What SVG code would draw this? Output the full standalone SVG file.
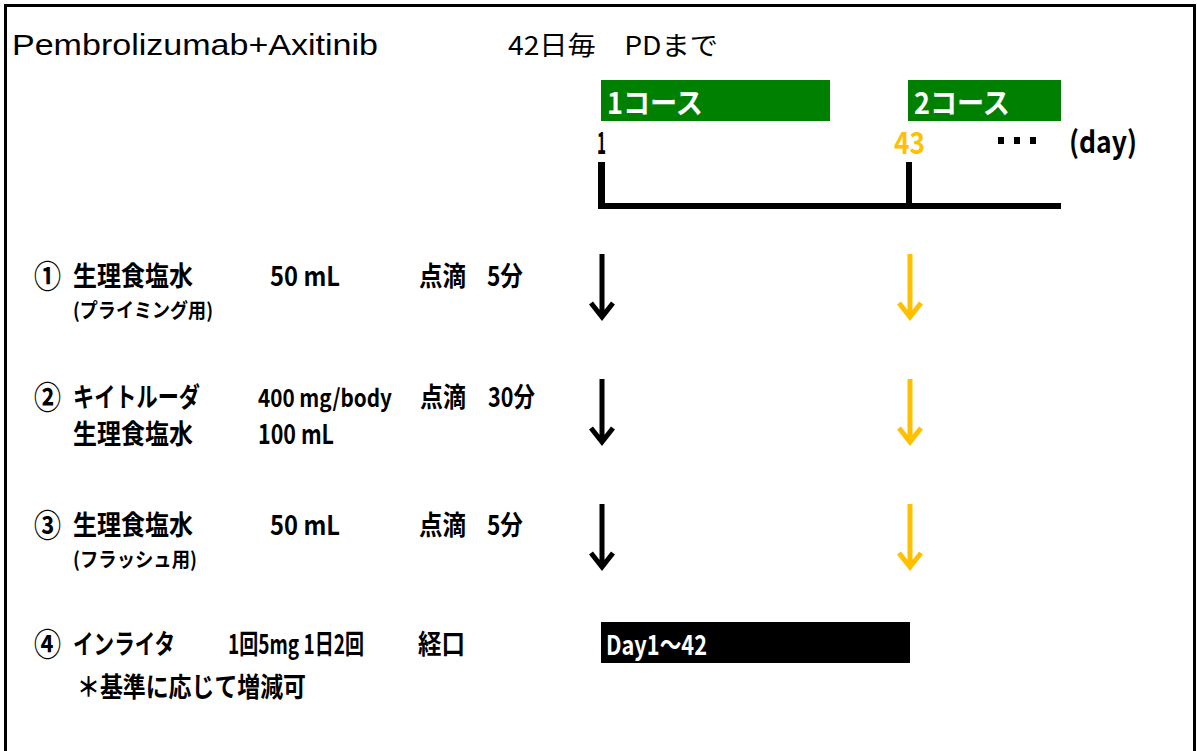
<svg xmlns="http://www.w3.org/2000/svg" xmlns:xlink="http://www.w3.org/1999/xlink" width="1197" height="751" viewBox="0 0 1197 751">
<style>
.t{font-family:"Noto Sans CJK JP","Noto Sans",sans-serif;font-weight:bold;fill:#000}
.r{font-weight:normal}
.m{font-size:27px}
.c{font-size:32px}
.s{font-size:20px}
.w{fill:#fff}
.y{fill:#FFC000}
.blk{stroke:#000}
.yel{stroke:#FFC000}
.arr{fill:none;stroke-width:5;stroke-linejoin:miter;stroke-miterlimit:10}
</style>
<defs>
<path id="arrow" d="M0,0 V64 M-11,49 L0,63 L11,49"/>
</defs>
<rect x="0" y="0" width="1197" height="751" fill="#fff"/>
<rect x="5.5" y="5.5" width="1189" height="800" fill="none" stroke="#000" stroke-width="3"/>

<g id="title">
<text x="12" y="55" font-family="Liberation Sans, Arial, sans-serif" font-size="30" textLength="366" lengthAdjust="spacingAndGlyphs">Pembrolizumab+Axitinib</text>
<text class="t r" x="508" y="55" font-size="26" textLength="210" lengthAdjust="spacingAndGlyphs">42日毎　PDまで</text>
</g>

<g id="course1">
<rect x="601" y="80" width="229" height="41" fill="#008000"/>
<text class="t w" x="607" y="114" font-size="29" textLength="96" lengthAdjust="spacingAndGlyphs">1コース</text>
</g>
<g id="course2">
<rect x="908" y="80" width="153" height="41" fill="#008000"/>
<text class="t w" x="914" y="114" font-size="29" textLength="96" lengthAdjust="spacingAndGlyphs">2コース</text>
</g>

<g id="timeline">
<text class="t" x="597" y="154" font-size="31" textLength="9" lengthAdjust="spacingAndGlyphs">1</text>
<text class="t y" x="894" y="154" font-size="31" textLength="31" lengthAdjust="spacingAndGlyphs">43</text>
<rect x="998" y="137" width="6" height="7"/>
<rect x="1014" y="137" width="6" height="7"/>
<rect x="1030" y="137" width="6" height="7"/>
<text class="t" x="1069" y="153" font-size="30" textLength="68" lengthAdjust="spacingAndGlyphs">(day)</text>
<rect x="598" y="162" width="7" height="47"/>
<rect x="906" y="162" width="6" height="44"/>
<rect x="598" y="203" width="463" height="6"/>
</g>

<g id="row1">
<text class="t c" x="34" y="288" textLength="27" lengthAdjust="spacingAndGlyphs">①</text>
<text class="t m" x="73" y="286" textLength="120" lengthAdjust="spacingAndGlyphs">生理食塩水</text>
<text class="t m" x="270" y="286" textLength="70" lengthAdjust="spacingAndGlyphs">50 mL</text>
<text class="t m" x="419" y="286" textLength="47" lengthAdjust="spacingAndGlyphs">点滴</text>
<text class="t m" x="487" y="286" textLength="36" lengthAdjust="spacingAndGlyphs">5分</text>
<text class="t s" x="73" y="318" textLength="140" lengthAdjust="spacingAndGlyphs">(プライミング用)</text>
</g>

<g id="row2">
<text class="t c" x="34" y="409" textLength="27" lengthAdjust="spacingAndGlyphs">②</text>
<text class="t m" x="73" y="407" textLength="127" lengthAdjust="spacingAndGlyphs">キイトルーダ</text>
<text class="t" x="258" y="407" font-size="24" textLength="134" lengthAdjust="spacingAndGlyphs">400 mg/body</text>
<text class="t m" x="420" y="407" textLength="46" lengthAdjust="spacingAndGlyphs">点滴</text>
<text class="t m" x="488" y="407" textLength="47" lengthAdjust="spacingAndGlyphs">30分</text>
<text class="t m" x="73" y="444" textLength="120" lengthAdjust="spacingAndGlyphs">生理食塩水</text>
<text class="t m" x="258" y="444" textLength="76" lengthAdjust="spacingAndGlyphs">100 mL</text>
</g>

<g id="row3">
<text class="t c" x="34" y="537" textLength="27" lengthAdjust="spacingAndGlyphs">③</text>
<text class="t m" x="73" y="535" textLength="120" lengthAdjust="spacingAndGlyphs">生理食塩水</text>
<text class="t m" x="270" y="535" textLength="70" lengthAdjust="spacingAndGlyphs">50 mL</text>
<text class="t m" x="419" y="535" textLength="47" lengthAdjust="spacingAndGlyphs">点滴</text>
<text class="t m" x="487" y="535" textLength="36" lengthAdjust="spacingAndGlyphs">5分</text>
<text class="t s" x="73" y="567" textLength="124" lengthAdjust="spacingAndGlyphs">(フラッシュ用)</text>
</g>

<g id="row4">
<text class="t c" x="34" y="656" textLength="27" lengthAdjust="spacingAndGlyphs">④</text>
<text class="t m" x="73" y="654" textLength="102" lengthAdjust="spacingAndGlyphs">インライタ</text>
<text class="t m" x="228" y="654" textLength="136" lengthAdjust="spacingAndGlyphs">1回5mg 1日2回</text>
<text class="t m" x="418" y="654" textLength="47" lengthAdjust="spacingAndGlyphs">経口</text>
<text class="t m" x="77" y="697" textLength="229" lengthAdjust="spacingAndGlyphs">＊基準に応じて増減可</text>
</g>

<g id="inlyta-bar">
<rect x="601" y="622" width="309" height="41" fill="#000"/>
<text class="t w" x="606" y="655" font-size="27" textLength="101" lengthAdjust="spacingAndGlyphs">Day1～42</text>
</g>

<g id="connectors" class="arr">
<use xlink:href="#arrow" x="602" y="254" class="blk"/>
<use xlink:href="#arrow" x="910" y="254" class="yel"/>
<use xlink:href="#arrow" x="602" y="379" class="blk"/>
<use xlink:href="#arrow" x="910" y="379" class="yel"/>
<use xlink:href="#arrow" x="602" y="504" class="blk"/>
<use xlink:href="#arrow" x="910" y="504" class="yel"/>
</g>
</svg>
